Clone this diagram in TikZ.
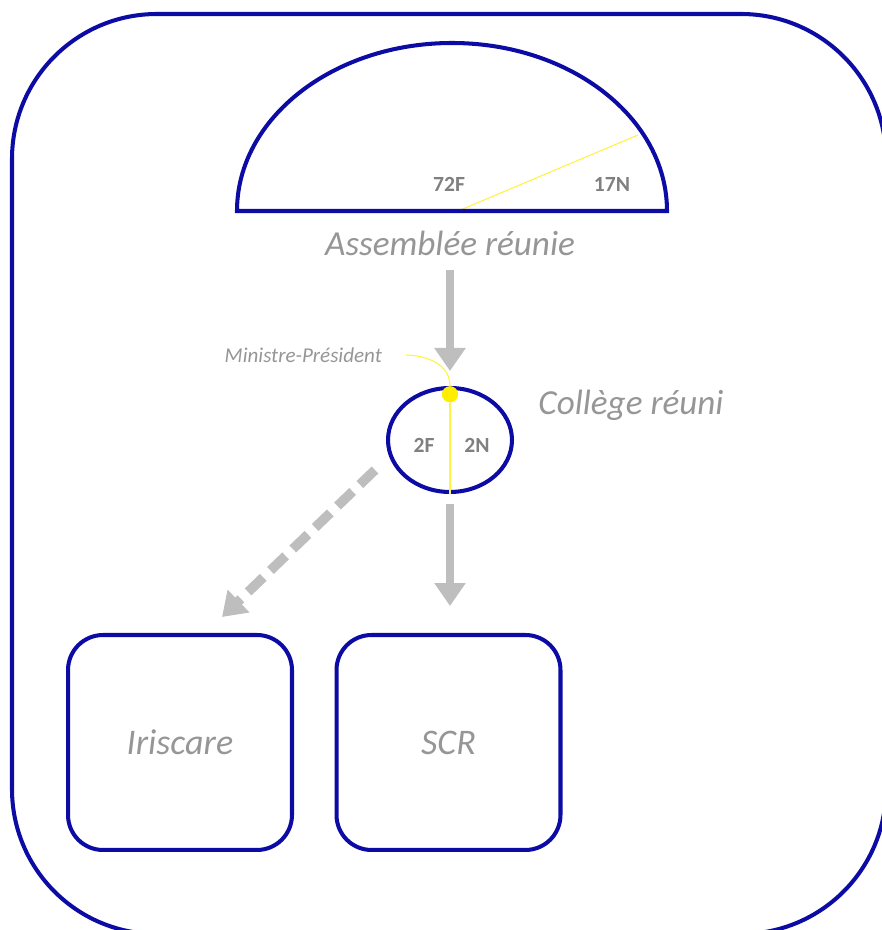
\documentclass[tikz,border=0pt]{standalone}
\usepackage{fontspec}
\setmainfont{Carlito}
\usetikzlibrary{shapes,arrows.meta,positioning,calc}

\definecolor{parlblue}{RGB}{12,12,165}
\definecolor{labelgray}{RGB}{150,150,150}
\definecolor{seatgray}{RGB}{128,128,128}
\definecolor{arrowgray}{RGB}{190,190,190}
\definecolor{seatyellow}{RGB}{255,238,0}

\begin{document}
\begin{tikzpicture}[
    x=0.02cm,
    y=0.02cm,
    frame/.style={
        draw=parlblue,
        line width=2.3pt,
        rounded corners=2.9cm
    },
    body/.style={
        rectangle,
        draw=parlblue,
        line width=2.3pt,
        rounded corners=0.7cm,
        minimum width=4.48cm,
        minimum height=4.3cm,
        text=labelgray,
        font=\fontsize{20.5}{23}\selectfont\itshape
    },
    college/.style={
        ellipse,
        draw=parlblue,
        line width=2.3pt,
        minimum width=2.48cm,
        minimum height=2.08cm,
        inner sep=0pt
    },
    dot/.style={
        circle,
        fill=seatyellow,
        minimum size=0.32cm,
        inner sep=0pt
    },
    title/.style={
        text=labelgray,
        font=\fontsize{20}{23}\selectfont\itshape
    },
    seats/.style={
        text=seatgray,
        font=\fontsize{12.3}{14}\selectfont\bfseries
    },
    small/.style={
        text=labelgray,
        inner sep=1pt,
        font=\fontsize{12}{14}\selectfont\itshape
    },
    flow/.style={
        draw=arrowgray,
        line width=5pt,
        -{Triangle[width=0.6cm,length=0.46cm]}
    },
    divide/.style={
        draw=seatyellow!75!white,
        line width=0.6pt
    }
]

\clip (0,0) rectangle (882,930);

% Frame
\draw [frame] (12,-4) rectangle (886,916);

% Assemblee
\draw [divide] (458,719) -- (638,795);
\draw [parlblue, line width=2.3pt] (237,719) arc[start angle=180, end angle=0, x radius=215, y radius=168] -- cycle;

% Nodes
\node [seats] (f72) at (449,746) {72F};
\node [seats] (n17) at (612,746) {17N};
\node [title] (assemblee) at (450,687) {Assemblée réunie};
\node [college] (college) at (450,490) {};
\node [dot, below=0pt of college.north] (president) {};
\node [seats] (f2) at (424,485) {2F};
\node [seats] (n2) at (477,485) {2N};
\node [title] (colltitle) at (631,525) {Collège réuni};
\node [small, anchor=east] (mp) at (384,575) {Ministre-Président};
\node [body] (iriscare) at (180,187.5) {Iriscare};
\node [body] (scr) at (448.5,187.5) {SCR};
\coordinate (split) at (375,460);
\coordinate (toiris) at (222,313);

% Edges
\draw [divide] (president) -- (college.south);
\draw [divide, shorten <=0.44cm] (mp.east) to[out=0, in=90] (president.north);
\node [dot] at (president) {};
\draw [flow, shorten <=0.16cm, shorten >=0.3cm] (assemblee.south) -- (college.north);
\draw [flow, shorten <=0.2cm, shorten >=0.54cm] (college.south) -- (college.south |- scr.north);
\draw [flow, line width=5.5pt, dash pattern=on 0.42cm off 0.2cm] (split) -- (toiris);

\end{tikzpicture}
\end{document}
